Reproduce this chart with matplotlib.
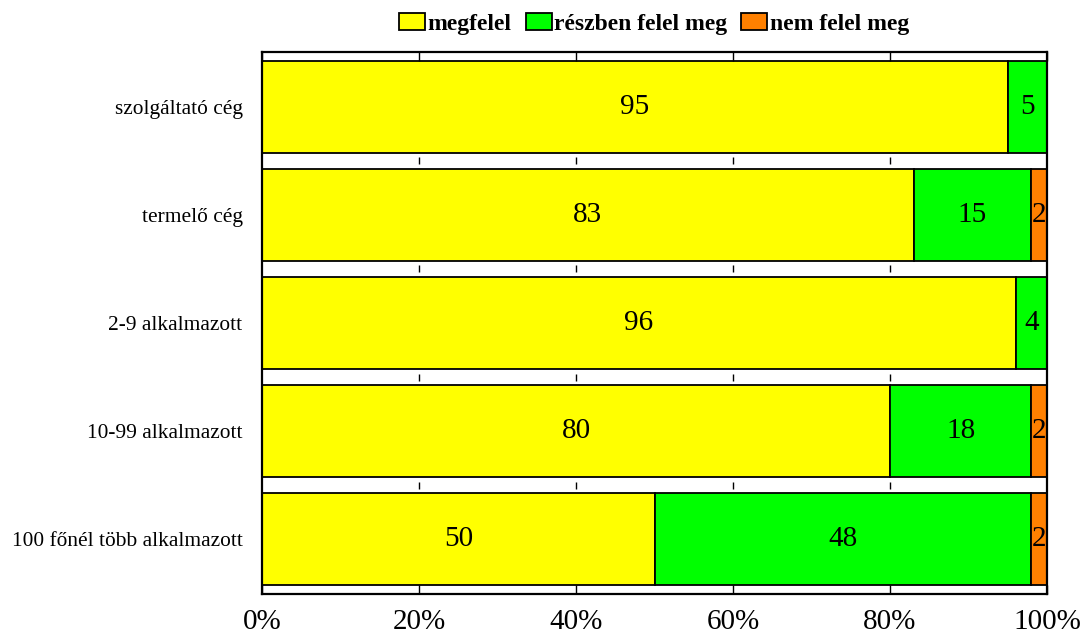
import matplotlib
matplotlib.use("Agg")
import matplotlib.pyplot as plt
import numpy as np

categories = ["szolgáltató cég", "termelő cég", "2-9 alkalmazott",
              "10-99 alkalmazott", "100 főnél több alkalmazott"]
series_names = ["megfelel", "részben felel meg", "nem felel meg"]
megfelel = [95, 83, 96, 80, 50]
reszben = [5, 15, 4, 18, 48]
nem = [0, 2, 0, 2, 2]
colors = ["#FFFF00", "#00FF00", "#FF8000"]
xtick_vals = [0, 20, 40, 60, 80, 100]
xtick_labels = ["0%", "20%", "40%", "60%", "80%", "100%"]

plt.rcParams['font.family'] = ['Liberation Serif', 'DejaVu Serif']

fig = plt.figure(figsize=(10.82, 6.37), dpi=100)
ax = fig.add_axes([262/1082, 1-594/637, (1047-262)/1082, (594-52)/637])

n = len(categories)
ypos = np.arange(n)[::-1]  # first category at top
h = 0.852
series = [megfelel, reszben, nem]
left = np.zeros(n)
handles = []
for name, vals, c in zip(series_names, series, colors):
    vals = np.array(vals, dtype=float)
    b = ax.barh(ypos, vals, left=left, height=h, color=c, edgecolor="black",
                linewidth=1.3, label=name)
    handles.append(b)
    for y, l, v in zip(ypos, left, vals):
        if v > 0:
            ax.text(l + v/2, y, f"{int(v)}", ha="center", va="center",
                    fontsize=21, color="black")
    left += vals

ax.set_xlim(0, 100)
ax.set_ylim(-0.506, n - 1 + 0.506)
ax.set_yticks(ypos)
ax.set_yticklabels(categories, fontsize=15.4)
ax.tick_params(axis="y", length=0, pad=14)
ax.set_xticks(xtick_vals)
ax.set_xticklabels(xtick_labels, fontsize=21)
ax.tick_params(axis="x", direction="in", length=6.5, width=1, top=True,
               pad=11)

# small marks in gaps between bars
for g in range(n - 1):
    yc = g + 0.5
    ax.vlines(xtick_vals[1:-1], yc - 0.032, yc + 0.032, color="black",
              linewidth=1)

for s in ax.spines.values():
    s.set_linewidth(1.6)

leg = fig.legend(handles=handles, labels=series_names, loc="center",
                 bbox_to_anchor=(654/1082, 1 - 24/637), ncol=3, frameon=False,
                 prop={"weight": "bold", "size": 17}, handlelength=1.1,
                 handleheight=0.75, handletextpad=0.1, columnspacing=0.6)

fig.savefig("out.png", dpi=100)
